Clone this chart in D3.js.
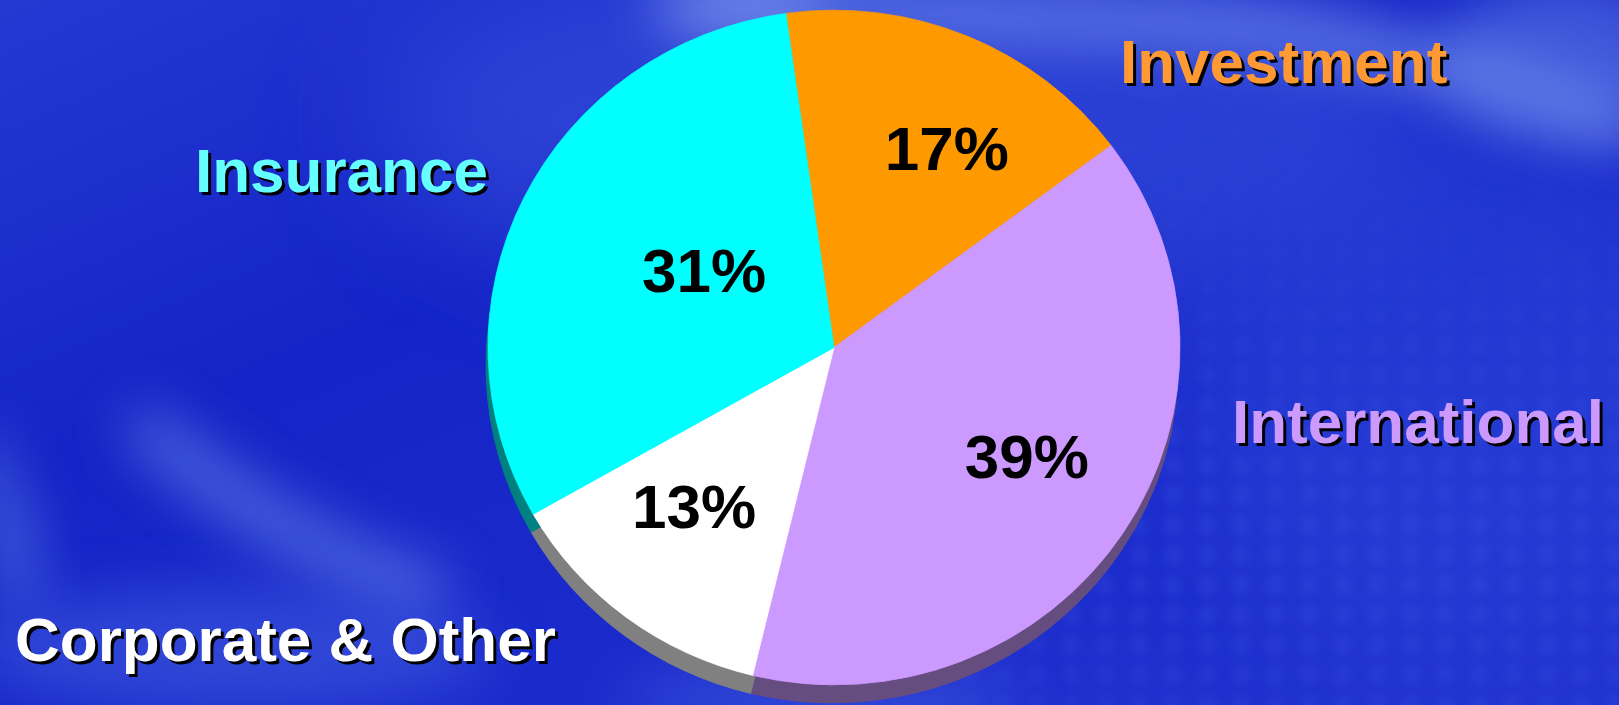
<!DOCTYPE html>
<html>
<head>
<meta charset="utf-8">
<script src="https://cdn.jsdelivr.net/npm/d3@7"></script>
<style>
  html, body { margin: 0; padding: 0; background: #1a2ac8; overflow: hidden; }
  svg { display: block; }
</style>
</head>
<body>
<svg id="chart" width="1619" height="705"></svg>
<script>
// Segment shares, in drawing order (clockwise from just left of 12 o'clock)
const categories = ["Investment", "International", "Corporate & Other", "Insurance"];
const shares = [17, 39, 13, 31];
const pctLabels = ["17%", "39%", "13%", "31%"];
const sliceColors = ["#ff9900", "#cc99ff", "#ffffff", "#00ffff"];
const nameColors = ["#ff9933", "#cc99ff", "#ffffff", "#66ffff"];

// Layout
const W = 1619, H = 705;
const cx = 834, cy = 347.5, R = 346, squash = 0.975;
const startDeg = -8;
const depth = { dx: -2, dy: 18 };
// Name label anchors (left, baseline)
const nameAnchors = [[1120, 83], [1232, 443], [15, 661], [195, 192]];
// Percentage label placement: [angle nudge in degrees, radius fraction]
const pctPlacement = [[6.3, 0.675], [-3.2, 0.645], [3.7, 0.62], [5.2, 0.44]];

const svg = d3.select("#chart");
const defs = svg.append("defs");

// ---- background -------------------------------------------------------
const bg = defs.append("linearGradient").attr("id", "bgGrad")
  .attr("x1", "0").attr("y1", "0").attr("x2", "1").attr("y2", "1");
bg.append("stop").attr("offset", "0").attr("stop-color", "#2438d2");
bg.append("stop").attr("offset", "0.35").attr("stop-color", "#1424c6");
bg.append("stop").attr("offset", "0.7").attr("stop-color", "#1c2ccc");
bg.append("stop").attr("offset", "1").attr("stop-color", "#2234d0");

const soft = defs.append("filter").attr("id", "soft")
  .attr("x", "-50%").attr("y", "-50%").attr("width", "200%").attr("height", "200%");
soft.append("feGaussianBlur").attr("stdDeviation", 28);
const softer = defs.append("filter").attr("id", "softer")
  .attr("x", "-50%").attr("y", "-50%").attr("width", "200%").attr("height", "200%");
softer.append("feGaussianBlur").attr("stdDeviation", 60);
const tiny = defs.append("filter").attr("id", "tiny")
  .attr("x", "-50%").attr("y", "-50%").attr("width", "200%").attr("height", "200%");
tiny.append("feGaussianBlur").attr("stdDeviation", 4);

// bubbled texture on the right
const pat = defs.append("pattern").attr("id", "bubbles")
  .attr("patternUnits", "userSpaceOnUse").attr("width", 34).attr("height", 30);
pat.append("ellipse").attr("cx", 17).attr("cy", 15).attr("rx", 9).attr("ry", 11)
  .attr("fill", "#3a50e0").attr("filter", "url(#tiny)");
const fade = defs.append("radialGradient").attr("id", "fadeGrad")
  .attr("cx", "0.9").attr("cy", "0.75").attr("r", "0.55");
fade.append("stop").attr("offset", "0").attr("stop-color", "#fff").attr("stop-opacity", 1);
fade.append("stop").attr("offset", "1").attr("stop-color", "#fff").attr("stop-opacity", 0);
defs.append("mask").attr("id", "fadeMask")
  .append("rect").attr("width", W).attr("height", H).attr("fill", "url(#fadeGrad)");

svg.append("rect").attr("width", W).attr("height", H).attr("fill", "url(#bgGrad)");
svg.append("rect").attr("width", W).attr("height", H).attr("fill", "url(#bubbles)")
  .attr("opacity", 0.45).attr("mask", "url(#fadeMask)");

const glow = svg.append("g");
// broad lighter haze across the upper middle and right
glow.append("ellipse").attr("cx", 900).attr("cy", 120).attr("rx", 520).attr("ry", 180)
  .attr("fill", "#3a52de").attr("opacity", 0.55).attr("filter", "url(#softer)");
glow.append("ellipse").attr("cx", 1450).attr("cy", 380).attr("rx", 260).attr("ry", 260)
  .attr("fill", "#2c44d8").attr("opacity", 0.5).attr("filter", "url(#softer)");
// bright streak along the top edge, sweeping to the upper right
glow.append("path")
  .attr("d", "M650,-20 C760,10 900,40 1080,40 C1250,40 1420,70 1640,150 L1640,110 C1420,20 1250,0 1080,0 C920,-5 780,-20 650,-20 Z")
  .attr("fill", "#7f9cf0").attr("opacity", 0.75).attr("filter", "url(#soft)");
glow.append("ellipse").attr("cx", 740).attr("cy", 10).attr("rx", 90).attr("ry", 30)
  .attr("fill", "#8aa4f2").attr("opacity", 0.7).attr("filter", "url(#soft)");
glow.append("ellipse").attr("cx", 1560).attr("cy", 60).attr("rx", 120).attr("ry", 80)
  .attr("fill", "#6a88ec").attr("opacity", 0.5).attr("filter", "url(#soft)");
// streaks in the lower left
glow.append("path")
  .attr("d", "M120,430 C200,500 280,560 420,610 L460,580 C320,540 240,480 150,410 Z")
  .attr("fill", "#6f8cec").attr("opacity", 0.75).attr("filter", "url(#soft)");
glow.append("path")
  .attr("d", "M-20,430 C20,470 40,530 40,600 L0,610 C-10,540 -20,480 -40,440 Z")
  .attr("fill", "#6482ea").attr("opacity", 0.6).attr("filter", "url(#soft)");
glow.append("ellipse").attr("cx", 230).attr("cy", 650).attr("rx", 260).attr("ry", 60)
  .attr("fill", "#3f5ae0").attr("opacity", 0.6).attr("filter", "url(#soft)");
glow.append("ellipse").attr("cx", 820).attr("cy", 700).attr("rx", 200).attr("ry", 30)
  .attr("fill", "#4a66e4").attr("opacity", 0.5).attr("filter", "url(#soft)");

// ---- pie ---------------------------------------------------------------
const a0 = startDeg * Math.PI / 180;
const pie = d3.pie().sort(null).value(d => d).startAngle(a0).endAngle(a0 + 2 * Math.PI);
const arcs = pie(shares);
const arc = d3.arc().innerRadius(0).outerRadius(R);

// extruded depth beneath the face
const shade = svg.append("g")
  .attr("transform", `translate(${cx + depth.dx},${cy + depth.dy}) scale(1,${squash})`);
shade.selectAll("path").data(arcs).join("path")
  .attr("d", arc)
  .attr("fill", (d, i) => d3.interpolateRgb(sliceColors[i], "#000")(0.5))
  .attr("stroke", (d, i) => d3.interpolateRgb(sliceColors[i], "#000")(0.5))
  .attr("stroke-width", 1);

// face of the pie
const face = svg.append("g")
  .attr("transform", `translate(${cx},${cy}) scale(1,${squash})`);
face.selectAll("path").data(arcs).join("path")
  .attr("d", arc)
  .attr("fill", (d, i) => sliceColors[i])
  .attr("stroke", (d, i) => sliceColors[i])
  .attr("stroke-width", 0.8);

// percentage labels inside the slices
const pct = svg.append("g");
arcs.forEach((d, i) => {
  const [nudge, frac] = pctPlacement[i];
  const ang = (d.startAngle + d.endAngle) / 2 + nudge * Math.PI / 180;
  const [px, py] = d3.pointRadial(ang, R * frac);
  pct.append("text")
    .attr("x", cx + px)
    .attr("y", cy + py * squash)
    .attr("text-anchor", "middle")
    .attr("dominant-baseline", "central")
    .attr("font-family", "'Liberation Sans', Arial, sans-serif")
    .attr("font-weight", "bold")
    .attr("font-size", 62)
    .attr("fill", "#000")
    .text(pctLabels[i]);
});

// segment names with a drop shadow
const names = svg.append("g")
  .attr("font-family", "'Liberation Sans', Arial, sans-serif")
  .attr("font-weight", "bold")
  .attr("font-size", 62);
categories.forEach((name, i) => {
  const [x, y] = nameAnchors[i];
  names.append("text").attr("x", x + 3).attr("y", y + 3).attr("fill", "#000").text(name);
  names.append("text").attr("x", x).attr("y", y).attr("fill", nameColors[i]).text(name);
});
</script>
</body>
</html>
